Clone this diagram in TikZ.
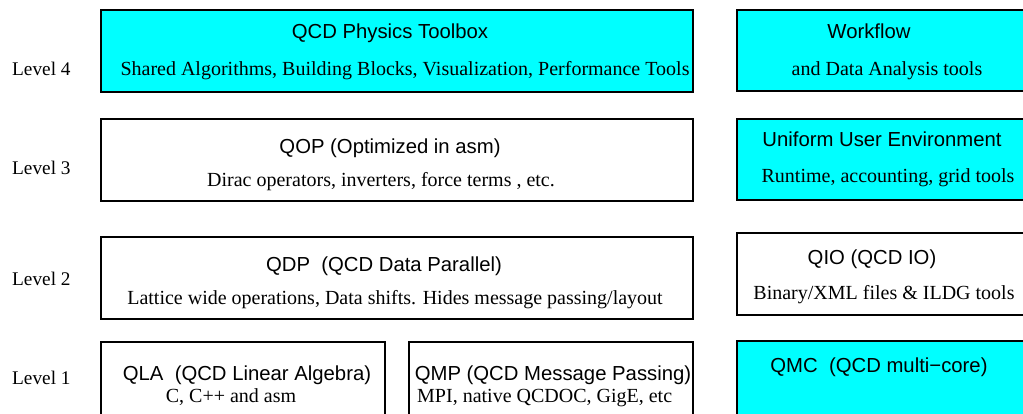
\documentclass[tikz,border=0pt]{standalone}
\usepackage{fontspec}
\setmainfont{Liberation Serif}
\newfontfamily\helv{Liberation Sans}
\definecolor{aqua}{RGB}{0,255,255}

\begin{document}
\begin{tikzpicture}[x=1pt,y=-1pt,
  layer/.style={draw,line width=1.3pt},
  tool/.style={layer,fill=aqua},
  head/.style={anchor=base,inner sep=0pt,font=\helv\fontsize{20.3}{23}\selectfont},
  body/.style={anchor=base,inner sep=0pt,font=\fontsize{20}{23}\selectfont},
  lvl/.style={body,anchor=base west,font=\fontsize{19.3}{22}\selectfont}]
  \useasboundingbox (0,0) rectangle (1023,414);
  \clip (0,0) rectangle (1023,414);
  % level labels
  \node[lvl] (lvlfour)  at (12,76)  {Level 4};
  \node[lvl] (lvlthree) at (12,175) {Level 3};
  \node[lvl] (lvltwo)   at (12,286) {Level 2};
  \node[lvl] (lvlone)   at (12,384) {Level 1};
  % level 4
  \draw[tool] (101,10) rectangle (693,92);
  \node[head] (toolbox)  at (390,39) {QCD Physics Toolbox};
  \node[body] (toolboxb) at (405,76) {Shared Algorithms, Building Blocks, Visualization, Performance Tools};
  \draw[tool] (737,10) rectangle (1025,91);
  \node[head] (workflow)  at (869,39) {Workflow};
  \node[body] (workflowb) at (887,76) {and Data Analysis tools};
  % level 3
  \draw[layer] (101,119) rectangle (693,201);
  \node[head] (qop)  at (390,154) {QOP (Optimized in asm)};
  \node[body] (qopb) at (381,187) {Dirac operators, inverters, force terms , etc.};
  \draw[tool] (737,119) rectangle (1025,200);
  \node[head] (uue)  at (882,147) {Uniform User Environment};
  \node[body] (uueb) at (888,183) {Runtime, accounting, grid tools};
  % level 2
  \draw[layer] (101,237) rectangle (693,319);
  \node[head] (qdp)  at (384,272) {QDP\ \ (QCD Data Parallel)};
  \node[body] (qdpb) at (395,304) {Lattice wide operations, Data shifts. Hides message passing/layout};
  \draw[layer] (737,233) rectangle (1025,315);
  \node[head] (qio)  at (872,265) {QIO (QCD IO)};
  \node[body] (qiob) at (884,299) {Binary/XML files \& ILDG tools};
  % level 1
  \draw[layer] (101,342) rectangle (385,430);
  \node[head] (qla)  at (247,380) {QLA\ \ (QCD Linear Algebra)};
  \node[body] (qlab) at (231,402) {C, C++ and asm};
  \draw[layer] (409,342) rectangle (693,430);
  \node[head] (qmp)  at (553,380) {QMP (QCD Message Passing)};
  \node[body,anchor=base west] (qmpb) at (417,402) {MPI, native QCDOC, GigE, etc};
  \draw[tool] (737,341) rectangle (1025,430);
  \node[head] (qmc) at (879,372) {QMC\ \ (QCD multi−core)};
\end{tikzpicture}
\end{document}
